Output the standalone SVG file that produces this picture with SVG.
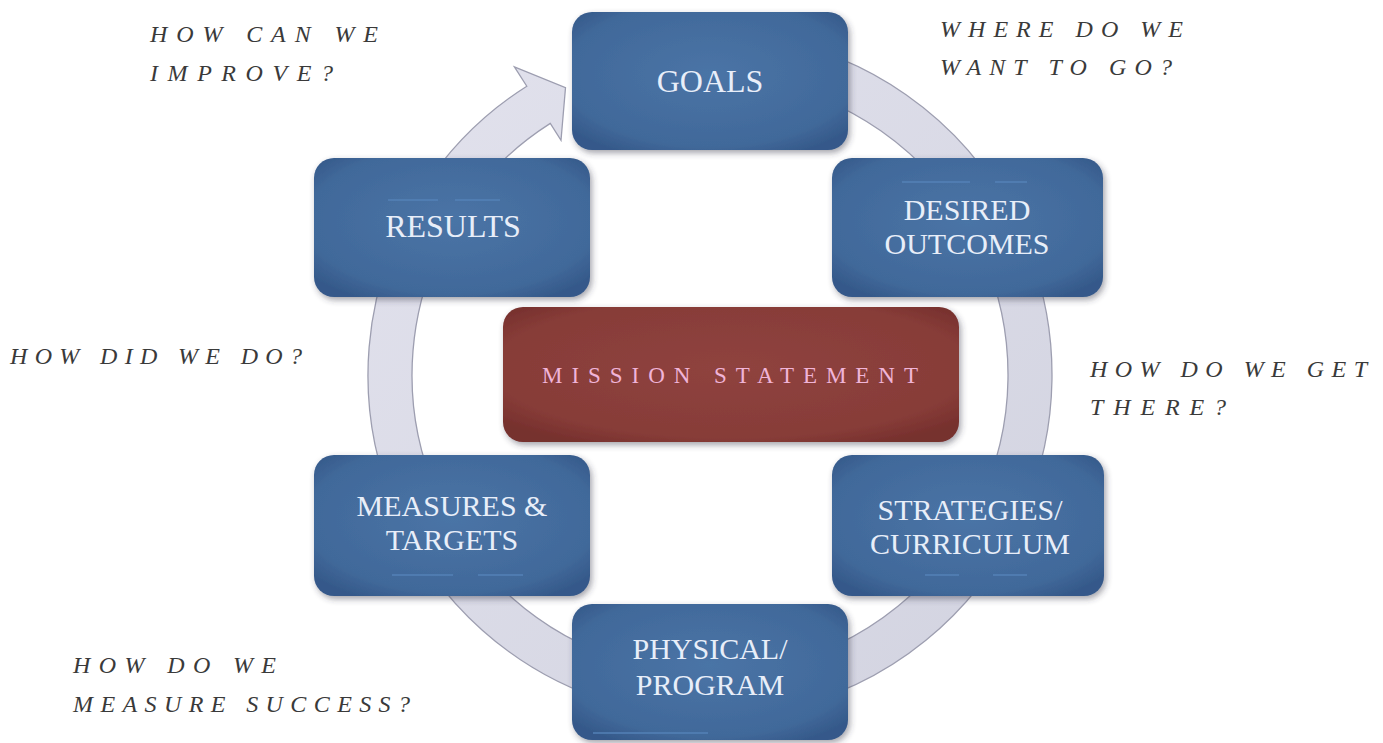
<svg xmlns="http://www.w3.org/2000/svg" width="1383" height="743" viewBox="0 0 1383 743">
  <defs>
    <radialGradient id="blueFill" cx="50%" cy="45%" r="65%">
      <stop offset="0%" stop-color="#4a74a6"/>
      <stop offset="80%" stop-color="#41699a"/>
      <stop offset="100%" stop-color="#35598a"/>
    </radialGradient>
    <radialGradient id="redFill" cx="50%" cy="45%" r="65%">
      <stop offset="0%" stop-color="#8f433f"/>
      <stop offset="80%" stop-color="#873c38"/>
      <stop offset="100%" stop-color="#76302d"/>
    </radialGradient>
    <linearGradient id="ringFill" x1="0" y1="0" x2="1" y2="1">
      <stop offset="0%" stop-color="#e2e2ed"/>
      <stop offset="100%" stop-color="#d2d3e0"/>
    </linearGradient>
    <filter id="shadow" x="-10%" y="-10%" width="125%" height="130%">
      <feDropShadow dx="2" dy="3" stdDeviation="3" flood-color="#333344" flood-opacity="0.45"/>
    </filter>
  </defs>
  <style>
    .box { fill: url(#blueFill); filter: url(#shadow); }
    .mbox { fill: url(#redFill); filter: url(#shadow); }
    .lbl { font-family: "Liberation Serif", "Times New Roman", serif; font-size: 30px; fill: #e8eef9; text-anchor: middle; }
    .big { font-size: 32px; }
    .mlbl { font-family: "Liberation Serif", "Times New Roman", serif; font-size: 23px; fill: #f0b4d8; }
    .q { font-family: "Liberation Serif", "Times New Roman", serif; font-style: italic; font-size: 24px; fill: #3a3a3a; }
    .deco { stroke: #5583b9; stroke-width: 2; opacity: 0.7; }
  </style>
  <rect width="1383" height="743" fill="#ffffff"/>

  <g id="connectors">
    <path d="M 769.4 38.2 A 342 342 0 1 1 526.8 86.2 L 514.4 66.8 L 565.5 87.7 L 561.0 140.3 L 550.3 123.4 A 298 298 0 1 0 761.7 81.5 Z" fill="url(#ringFill)" stroke="#9d9eb0" stroke-width="1.3" stroke-linejoin="miter"/>
  </g>

  <g id="node-goals">
    <rect class="box" x="572" y="12" width="276" height="138" rx="20"/>
    <text class="lbl big" x="710" y="92">GOALS</text>
  </g>
  <g id="node-desired">
    <rect class="box" x="832" y="158" width="271" height="139" rx="20"/>
    <line class="deco" x1="902" y1="182" x2="970" y2="182"/>
    <line class="deco" x1="995" y1="182" x2="1027" y2="182"/>
    <text class="lbl" x="967" y="220">DESIRED</text>
    <text class="lbl" x="967" y="254">OUTCOMES</text>
  </g>
  <g id="node-results">
    <rect class="box" x="314" y="158" width="276" height="139" rx="20"/>
    <line class="deco" x1="388" y1="200" x2="438" y2="200"/>
    <line class="deco" x1="455" y1="200" x2="500" y2="200"/>
    <text class="lbl big" x="453" y="237">RESULTS</text>
  </g>
  <g id="node-mission">
    <rect class="mbox" x="503" y="307" width="456" height="135" rx="20"/>
    <text class="mlbl" x="542" y="383" textLength="376" lengthAdjust="spacing">MISSION STATEMENT</text>
  </g>
  <g id="node-measures">
    <rect class="box" x="314" y="455" width="276" height="141" rx="20"/>
    <text class="lbl" x="452" y="516">MEASURES &amp;</text>
    <text class="lbl" x="452" y="550">TARGETS</text>
    <line class="deco" x1="392" y1="575" x2="453" y2="575"/>
    <line class="deco" x1="478" y1="575" x2="523" y2="575"/>
  </g>
  <g id="node-strategies">
    <rect class="box" x="832" y="455" width="272" height="141" rx="20"/>
    <text class="lbl" x="970" y="520">STRATEGIES/</text>
    <text class="lbl" x="970" y="554">CURRICULUM</text>
    <line class="deco" x1="925" y1="575" x2="959" y2="575"/>
    <line class="deco" x1="993" y1="575" x2="1027" y2="575"/>
  </g>
  <g id="node-physical">
    <rect class="box" x="572" y="604" width="276" height="136" rx="20"/>
    <text class="lbl" x="710" y="659">PHYSICAL/</text>
    <text class="lbl" x="710" y="695">PROGRAM</text>
    <line class="deco" x1="593" y1="733" x2="708" y2="733"/>
  </g>

  <g id="questions">
    <text class="q" x="150" y="42" textLength="228" lengthAdjust="spacing">HOW CAN WE</text>
    <text class="q" x="150" y="81" textLength="183" lengthAdjust="spacing">IMPROVE?</text>
    <text class="q" x="940" y="37" textLength="243" lengthAdjust="spacing">WHERE DO WE</text>
    <text class="q" x="940" y="75" textLength="232" lengthAdjust="spacing">WANT TO GO?</text>
    <text class="q" x="10" y="364" textLength="292" lengthAdjust="spacing">HOW DID WE DO?</text>
    <text class="q" x="1090" y="377" textLength="277" lengthAdjust="spacing">HOW DO WE GET</text>
    <text class="q" x="1090" y="415" textLength="136" lengthAdjust="spacing">THERE?</text>
    <text class="q" x="73" y="673" textLength="203" lengthAdjust="spacing">HOW DO WE</text>
    <text class="q" x="73" y="712" textLength="337" lengthAdjust="spacing">MEASURE SUCCESS?</text>
  </g>
</svg>
